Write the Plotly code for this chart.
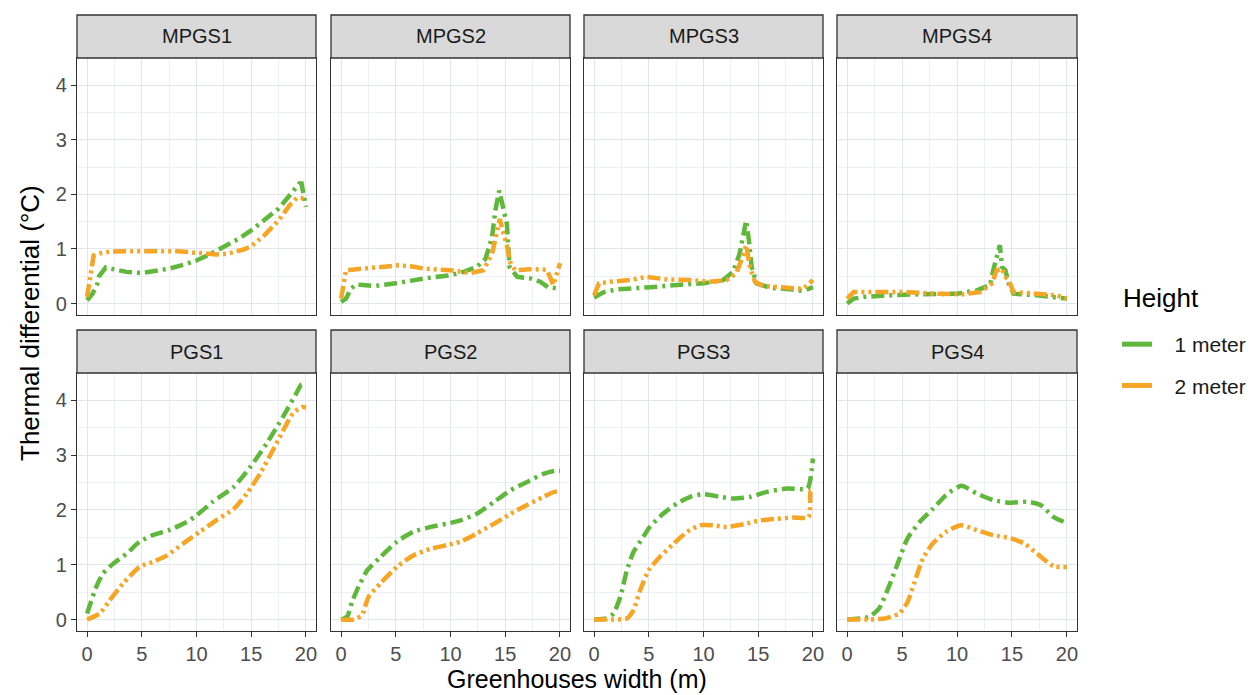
import plotly.graph_objects as go

# ---------------- data ----------------
PANELS = ["MPGS1", "MPGS2", "MPGS3", "MPGS4", "PGS1", "PGS2", "PGS3", "PGS4"]
HEIGHTS = ["1 meter", "2 meter"]
X_TICKS = [0, 5, 10, 15, 20]
Y_TICKS = [0, 1, 2, 3, 4]

MPGS1_1M_X = [0, 0.5, 0.95, 1.1, 1.7, 2.5, 3.6, 5, 6.2, 7.5, 8.8, 10, 11.2, 12.5, 13.8, 15, 16.2, 17.5, 18.5, 19.4, 19.6, 20]
MPGS1_1M_Y = [0.06, 0.18, 0.37, 0.5, 0.66, 0.62, 0.58, 0.56, 0.59, 0.64, 0.71, 0.79, 0.9, 1.04, 1.18, 1.34, 1.52, 1.74, 1.98, 2.2, 2.2, 1.77]
MPGS1_2M_X = [0, 0.15, 0.3, 0.6, 1.2, 2.1, 3.5, 5, 6.5, 8.2, 10, 11.8, 12.8, 13.6, 14.3, 15, 15.6, 16.2, 17, 17.5, 18.5, 19.2, 20]
MPGS1_2M_Y = [0.12, 0.3, 0.52, 0.88, 0.92, 0.95, 0.96, 0.96, 0.96, 0.96, 0.93, 0.9, 0.91, 0.95, 0.99, 1.05, 1.14, 1.25, 1.42, 1.52, 1.8, 1.94, 1.92]

MPGS2_1M_X = [0, 0.45, 0.9, 1.36, 2, 3, 5, 7.6, 10, 11.2, 12.4, 13.2, 13.8, 14.1, 14.45, 14.85, 15.15, 15.4, 16.1, 17.3, 18.2, 18.9, 20]
MPGS2_1M_Y = [0.03, 0.09, 0.27, 0.35, 0.34, 0.32, 0.37, 0.46, 0.52, 0.58, 0.67, 0.82, 1.22, 1.71, 2.07, 1.74, 1.46, 0.67, 0.49, 0.46, 0.4, 0.3, 0.27]
MPGS2_2M_X = [0, 0.3, 0.45, 1, 2.1, 3.5, 5.2, 6.5, 7.6, 10, 11.8, 13, 13.8, 14.2, 14.5, 14.85, 15.15, 15.45, 15.9, 17.3, 18.8, 19.4, 19.7, 20]
MPGS2_2M_Y = [0.09, 0.43, 0.61, 0.62, 0.64, 0.67, 0.7, 0.68, 0.64, 0.61, 0.56, 0.61, 0.91, 1.28, 1.55, 1.28, 1.07, 0.76, 0.61, 0.63, 0.62, 0.34, 0.55, 0.74]

MPGS3_1M_X = [0, 0.9, 2.1, 3.6, 5.2, 7.6, 10, 11.8, 12.7, 13.3, 13.6, 13.9, 14.15, 14.4, 14.85, 16.1, 17.9, 19.1, 20]
MPGS3_1M_Y = [0.11, 0.21, 0.26, 0.27, 0.3, 0.34, 0.37, 0.43, 0.58, 0.91, 1.22, 1.52, 1.16, 0.67, 0.37, 0.29, 0.26, 0.23, 0.3]
MPGS3_2M_X = [0, 0.45, 1.5, 3.3, 4.8, 6.7, 8.8, 10.6, 12.1, 13, 13.5, 13.9, 14.25, 14.7, 15.45, 17.3, 19.1, 20]
MPGS3_2M_Y = [0.15, 0.37, 0.4, 0.43, 0.49, 0.44, 0.43, 0.4, 0.43, 0.55, 0.82, 1.07, 0.67, 0.4, 0.32, 0.3, 0.27, 0.43]

MPGS4_1M_X = [0, 0.6, 1.5, 3.6, 6.7, 10, 11.8, 13, 13.3, 13.6, 13.9, 14.1, 14.4, 14.7, 15.15, 17.3, 19.1, 20]
MPGS4_1M_Y = [0.0, 0.09, 0.12, 0.15, 0.17, 0.18, 0.24, 0.34, 0.61, 0.85, 1.07, 0.67, 0.61, 0.37, 0.18, 0.15, 0.12, 0.09]
MPGS4_2M_X = [0, 0.6, 2.1, 5.2, 8.2, 10.6, 12.1, 13.2, 13.6, 14.1, 14.4, 14.7, 15.15, 17.3, 19.1, 20]
MPGS4_2M_Y = [0.09, 0.21, 0.21, 0.21, 0.18, 0.17, 0.21, 0.37, 0.61, 0.64, 0.49, 0.43, 0.21, 0.18, 0.15, 0.09]

PGS1_1M_X = [0, 0.85, 1.46, 2.4, 3.6, 4.8, 6, 7.6, 9.1, 10, 11.5, 13.4, 14.9, 16.4, 17.9, 19.1, 19.6, 20]
PGS1_1M_Y = [0.11, 0.6, 0.84, 1.02, 1.2, 1.42, 1.54, 1.64, 1.78, 1.9, 2.15, 2.42, 2.78, 3.21, 3.7, 4.12, 4.29, 4.29]
PGS1_2M_X = [0, 1.16, 2.07, 3.3, 4.8, 6, 7.3, 8.8, 10.3, 11.8, 13.4, 14.6, 15.8, 17.3, 18.8, 19.6, 20]
PGS1_2M_Y = [0, 0.11, 0.35, 0.66, 0.96, 1.05, 1.17, 1.39, 1.6, 1.81, 2.02, 2.3, 2.66, 3.21, 3.76, 3.88, 3.87]

PGS2_1M_X = [0, 0.55, 1, 1.6, 2.4, 3.6, 5.1, 6.6, 8.2, 9.7, 10.9, 12.4, 14, 15.5, 17, 18.5, 19.5, 20]
PGS2_1M_Y = [0, 0.05, 0.32, 0.6, 0.9, 1.14, 1.42, 1.6, 1.69, 1.75, 1.81, 1.93, 2.15, 2.36, 2.51, 2.66, 2.71, 2.71]
PGS2_2M_X = [0, 1.16, 1.9, 2.5, 3.6, 5.1, 6.6, 8.2, 9.7, 10.9, 12.4, 14, 15.5, 17, 18.5, 19.5, 20]
PGS2_2M_Y = [0, 0, 0.08, 0.41, 0.66, 0.96, 1.17, 1.29, 1.36, 1.42, 1.57, 1.75, 1.93, 2.09, 2.24, 2.33, 2.33]

PGS3_1M_X = [0, 1.16, 1.77, 2.4, 3, 3.6, 4.5, 5.1, 6.3, 7.6, 8.8, 10, 11.5, 12.7, 14.3, 15.8, 17.6, 19.5, 19.8, 20]
PGS3_1M_Y = [0, 0.02, 0.11, 0.41, 0.9, 1.23, 1.51, 1.69, 1.93, 2.12, 2.24, 2.29, 2.24, 2.21, 2.24, 2.33, 2.39, 2.39, 2.6, 2.94]
PGS3_2M_X = [0, 1.77, 3, 3.6, 4.2, 5, 6, 7.3, 8.5, 9.7, 10.9, 12.1, 13.7, 15.2, 16.7, 18.2, 19.6, 19.8, 20]
PGS3_2M_Y = [0, 0, 0.02, 0.17, 0.53, 0.9, 1.14, 1.39, 1.6, 1.72, 1.72, 1.69, 1.74, 1.81, 1.84, 1.86, 1.87, 2.36, 2.33]

PGS4_1M_X = [0, 2, 2.9, 3.8, 4.6, 5.5, 6.6, 7.8, 9, 10.4, 11.8, 13.3, 14.9, 16.4, 17.6, 18.8, 20]
PGS4_1M_Y = [0, 0.05, 0.2, 0.6, 1.02, 1.48, 1.78, 2.02, 2.27, 2.44, 2.3, 2.18, 2.13, 2.15, 2.09, 1.87, 1.76]
PGS4_2M_X = [0, 2, 3.5, 4.75, 5.5, 6.1, 6.9, 7.8, 9, 10.4, 11.8, 13.3, 14.9, 16.1, 17.3, 18.8, 20]
PGS4_2M_Y = [0, 0, 0.02, 0.11, 0.32, 0.66, 1.11, 1.39, 1.6, 1.72, 1.63, 1.54, 1.48, 1.39, 1.2, 0.97, 0.96]

SERIES = {
    "MPGS1": [(MPGS1_1M_X, MPGS1_1M_Y), (MPGS1_2M_X, MPGS1_2M_Y)],
    "MPGS2": [(MPGS2_1M_X, MPGS2_1M_Y), (MPGS2_2M_X, MPGS2_2M_Y)],
    "MPGS3": [(MPGS3_1M_X, MPGS3_1M_Y), (MPGS3_2M_X, MPGS3_2M_Y)],
    "MPGS4": [(MPGS4_1M_X, MPGS4_1M_Y), (MPGS4_2M_X, MPGS4_2M_Y)],
    "PGS1": [(PGS1_1M_X, PGS1_1M_Y), (PGS1_2M_X, PGS1_2M_Y)],
    "PGS2": [(PGS2_1M_X, PGS2_1M_Y), (PGS2_2M_X, PGS2_2M_Y)],
    "PGS3": [(PGS3_1M_X, PGS3_1M_Y), (PGS3_2M_X, PGS3_2M_Y)],
    "PGS4": [(PGS4_1M_X, PGS4_1M_Y), (PGS4_2M_X, PGS4_2M_Y)],
}

# ---------------- styling / layout ----------------
W, H = 1252, 695
FONT = "Liberation Sans, Arial, sans-serif"
COLORS = ["#5FB83C", "#F6A524"]
DASHES = ["13px,5px,3px,5px", "13px,4px,3px,4px,3px,4px"]
COL_PX = [(77, 316), (331, 570), (584, 823), (837, 1077)]
ROW_PX = [(58, 315), (373, 631)]       # plot area top/bottom (px from top)
STRIP_H = 43
GRID = "#E3E7EC"
MINOR = "#EEF1F4"
BORDER = "#333333"
NB = "\u00a0"

fig = go.Figure()
layout = dict(
    width=W, height=H,
    margin=dict(l=0, r=0, t=0, b=0),
    paper_bgcolor="white", plot_bgcolor="white",
    font=dict(family=FONT, color="#4D4D4D"),
    shapes=[], annotations=[],
)

for i, name in enumerate(PANELS):
    r, c = divmod(i, 4)
    k = i + 1
    xs = "" if k == 1 else str(k)
    x0, x1 = COL_PX[c]
    t, b = ROW_PX[r]
    bottom = (r == 1)
    left = (c == 0)
    layout["xaxis" + xs] = dict(
        domain=[x0 / W, x1 / W], anchor="y" + xs, range=[-0.92, 20.92],
        tickvals=X_TICKS, showticklabels=bottom,
        ticks="outside" if bottom else "", ticklen=5, tickwidth=1.3, tickcolor=BORDER,
        tickfont=dict(size=20, color="#4D4D4D", family=FONT),
        showgrid=True, gridcolor=GRID, gridwidth=1.2, zeroline=False,
        minor=dict(tickvals=[2.5, 7.5, 12.5, 17.5], showgrid=True, gridcolor=MINOR, gridwidth=0.8, ticks=""),
        showline=True, mirror=True, linecolor=BORDER, linewidth=1.3,
        fixedrange=True,
    )
    layout["yaxis" + xs] = dict(
        domain=[1 - b / H, 1 - t / H], anchor="x" + xs, range=[-0.21, 4.5],
        tickvals=Y_TICKS, showticklabels=left,
        ticks="outside" if left else "", ticklen=5, tickwidth=1.3, tickcolor=BORDER,
        tickfont=dict(size=20, color="#4D4D4D", family=FONT),
        showgrid=True, gridcolor=GRID, gridwidth=1.2, zeroline=False,
        minor=dict(tickvals=[0.5, 1.5, 2.5, 3.5], showgrid=True, gridcolor=MINOR, gridwidth=0.8, ticks=""),
        showline=True, mirror=True, linecolor=BORDER, linewidth=1.3,
        fixedrange=True,
    )
    # facet strip
    layout["shapes"].append(dict(
        type="rect", xref="paper", yref="paper",
        x0=x0 / W, x1=x1 / W, y0=1 - t / H, y1=1 - (t - STRIP_H) / H,
        fillcolor="#D9D9D9", line=dict(color=BORDER, width=1.3), layer="above",
    ))
    layout["annotations"].append(dict(
        text=name, xref="paper", yref="paper",
        x=(x0 + x1) / 2 / W, y=1 - (t - STRIP_H / 2) / H,
        showarrow=False, xanchor="center", yanchor="middle",
        font=dict(size=20, color="#1A1A1A", family=FONT),
    ))
    for j, (sx, sy) in enumerate(SERIES[name]):
        fig.add_trace(go.Scatter(
            x=sx, y=sy, mode="lines", xaxis="x" + xs, yaxis="y" + xs,
            line=dict(color=COLORS[j], width=4.5, dash=DASHES[j],
                      shape="spline" if name.startswith("PGS") else "linear", smoothing=0.6),
            showlegend=False, hoverinfo="x+y", name=HEIGHTS[j],
        ))

# legend entries
for j, h in enumerate(HEIGHTS):
    fig.add_trace(go.Scatter(
        x=[None], y=[None], mode="lines", name=NB * 3 + h, legendgroup=h,
        line=dict(color=COLORS[j], width=5), showlegend=True,
    ))

layout["legend"] = dict(
    x=1117 / W, y=1 - 324 / H, xanchor="left", yanchor="top",
    font=dict(size=21, color="#1A1A1A", family=FONT),
    tracegroupgap=11, itemwidth=30, bgcolor="rgba(0,0,0,0)",
)
layout["annotations"].append(dict(
    text="Height", xref="paper", yref="paper",
    x=1121 / W, y=1 - 298 / H, showarrow=False, xanchor="left", yanchor="middle",
    font=dict(size=26, color="#000000", family=FONT),
))

# axis titles
layout["annotations"].append(dict(
    text="Greenhouses width (m)", xref="paper", yref="paper",
    x=577 / W, y=1 - 679 / H, showarrow=False, xanchor="center", yanchor="middle",
    font=dict(size=25, color="#000000", family=FONT),
))
layout["annotations"].append(dict(
    text="Thermal differential (°C)", xref="paper", yref="paper",
    x=30 / W, y=1 - 323 / H, showarrow=False, xanchor="center", yanchor="middle",
    textangle=-90, font=dict(size=26, color="#000000", family=FONT),
))

fig.update_layout(**layout)
fig.write_html("out.html", post_script="document.body.style.margin='0';",
               config={"displayModeBar": False})
